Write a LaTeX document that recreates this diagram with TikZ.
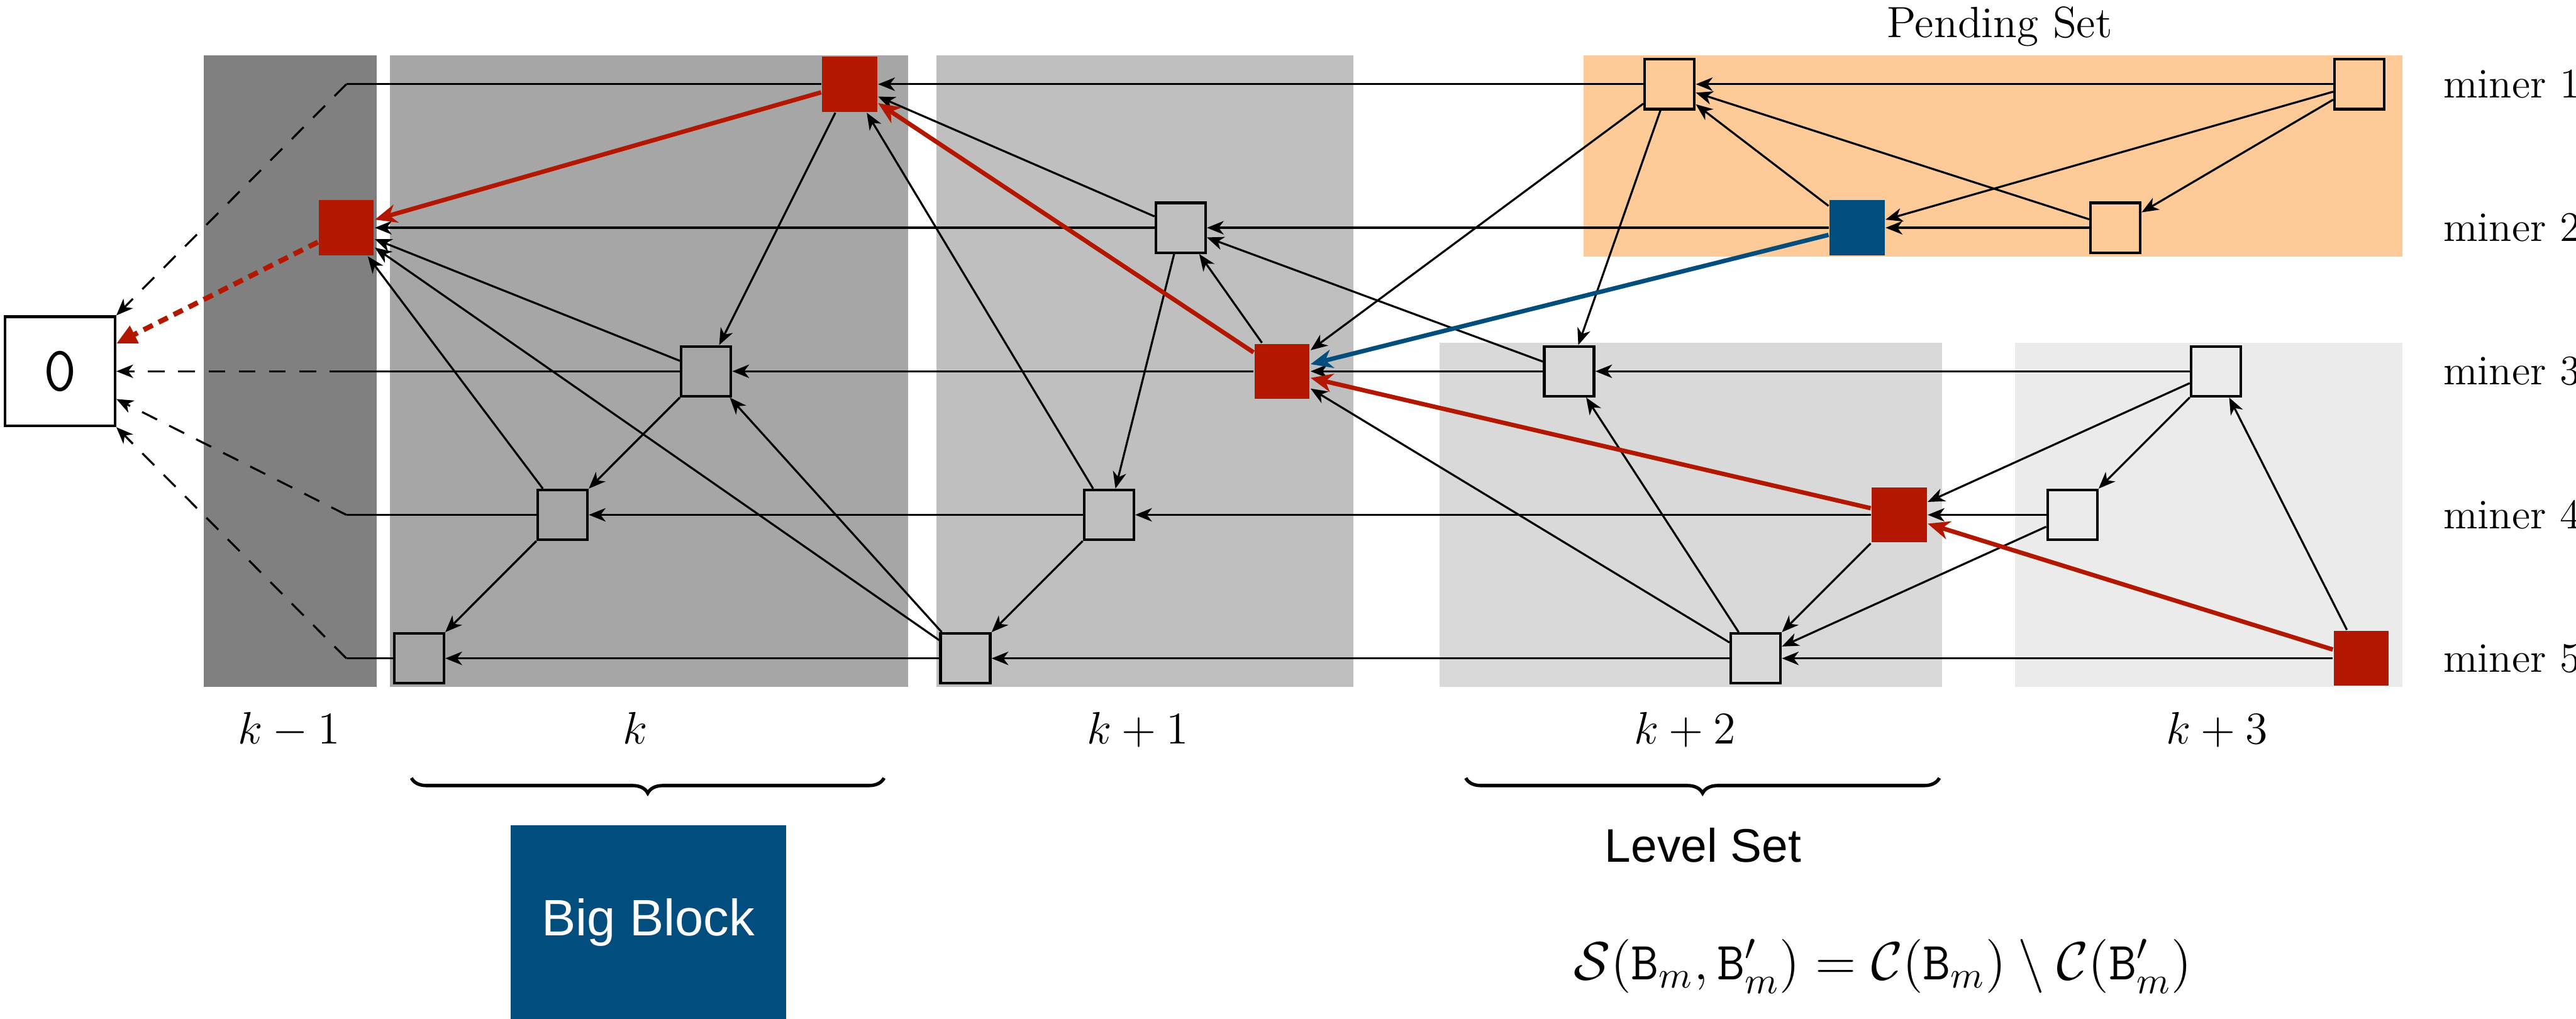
\documentclass[tikz,border=0pt]{standalone}
\usepackage{fix-cm}
\usepackage{amsmath}
\usepackage{amssymb}
\usepackage{fontspec}
\newfontfamily\blocksans{Liberation Sans}
\usetikzlibrary{arrows.meta,decorations.pathreplacing}
\definecolor{blkred}{RGB}{180,23,0}
\definecolor{blkblue}{RGB}{0,77,126}
\definecolor{pendorange}{RGB}{253,202,152}

\begin{document}
\begin{tikzpicture}[>={Stealth[length=5pt,width=4pt,inset=1.5pt]}, line width=0.6pt,
        block/.style={draw, line width=0.8pt, minimum size=0.52cm, inner sep=0pt},
        redblock/.style={fill=blkred, minimum size=0.575cm, inner sep=0pt},
        blueblock/.style={fill=blkblue, minimum size=0.575cm, inner sep=0pt},
        redlink/.style={-{Stealth[length=6.5pt,width=5.5pt,inset=2pt]}, line width=1.3pt, blkred},
        bluelink/.style={-{Stealth[length=6.5pt,width=5.5pt,inset=2pt]}, line width=1.3pt, blkblue},
        tail/.style={->, dash pattern=on 5pt off 4pt},
        miner/.style={anchor=west, font=\fontsize{12.5}{15}\selectfont},
        level/.style={anchor=base, font=\fontsize{13.5}{16}\selectfont}]
        \useasboundingbox (0,-6.766) rectangle (26.924,3.88);

        % levels and the pending set
        \fill[black!50] (2.127,-3.3) rectangle (3.937,3.3);
        \fill[black!35] (4.076,-3.3) rectangle (9.494,3.3);
        \fill[black!25] (9.785,-3.3) rectangle (14.146,3.3);
        \fill[black!15] (15.044,-3.3) rectangle (20.30,0.3);
        \fill[black!8] (21.06,-3.3) rectangle (25.11,0.3);
        \fill[pendorange] (16.55,1.2) rectangle (25.11,3.3);

        \node[draw, line width=0.8pt, minimum width=1.15cm, minimum height=1.14cm, inner sep=0pt,
            font=\ttfamily\fontsize{19}{19}\selectfont] (zero) at (0.627,0) {0};

        \coordinate (b1) at (3.62,3);
        \coordinate (b3) at (3.62,0);
        \coordinate (b4) at (3.62,-1.5);
        \coordinate (b5) at (3.62,-3);

        \node[redblock] (l0m2) at (3.62,1.5) {};
        \node[redblock] (l1m1) at (8.88,3) {};
        \node[block] (l1m3) at (7.38,0) {};
        \node[block] (l1m4) at (5.88,-1.5) {};
        \node[block] (l1m5) at (4.38,-3) {};
        \node[block] (l2m2) at (12.34,1.5) {};
        \node[redblock] (l2m3) at (13.40,0) {};
        \node[block] (l2m4) at (11.59,-1.5) {};
        \node[block] (l2m5) at (10.09,-3) {};
        \node[block] (l3m3) at (16.40,0) {};
        \node[redblock] (l3m4) at (19.85,-1.5) {};
        \node[block] (l3m5) at (18.35,-3) {};
        \node[block] (l4m3) at (23.16,0) {};
        \node[block] (l4m4) at (21.66,-1.5) {};
        \node[redblock] (l4m5) at (24.68,-3) {};
        \node[block] (p1a) at (17.45,3) {};
        \node[block] (p1b) at (24.66,3) {};
        \node[blueblock] (p2a) at (19.41,1.5) {};
        \node[block] (p2b) at (22.11,1.5) {};

        % chains of each miner
        \draw[->] (p1b) -- (p1a);
        \draw[->] (p1a) -- (l1m1);
        \draw (l1m1) -- (b1);
        \draw[tail] (b1) -- (zero.north east);
        \draw[->] (p2b) -- (p2a);
        \draw[->] (p2a) -- (l2m2);
        \draw[->] (l2m2) -- (l0m2);
        \draw[->] (l4m3) -- (l3m3);
        \draw[->] (l3m3) -- (l2m3);
        \draw[->] (l2m3) -- (l1m3);
        \draw (l1m3) -- (b3);
        \draw[tail] (b3) -- (zero.east);
        \draw[->] (l4m4) -- (l3m4);
        \draw[->] (l3m4) -- (l2m4);
        \draw[->] (l2m4) -- (l1m4);
        \draw (l1m4) -- (b4);
        \draw[tail] (b4) -- ([yshift=-0.29cm]zero.east);
        \draw[->] (l4m5) -- (l3m5);
        \draw[->] (l3m5) -- (l2m5);
        \draw[->] (l2m5) -- (l1m5);
        \draw (l1m5) -- (b5);
        \draw[tail] (b5) -- (zero.south east);

        % references across miners
        \draw[->] (l1m1) -- (l1m3);
        \draw[->] (l1m3) -- (l0m2);
        \draw[->] (l1m3) -- (l1m4);
        \draw[->] (l1m4) -- (l0m2);
        \draw[->] (l1m4) -- (l1m5);
        \draw[->] (l2m5) -- (l0m2);
        \draw[->] (l2m5) -- (l1m3);
        \draw[->] (l2m2) -- (l1m1);
        \draw[->] (l2m4) -- (l1m1);
        \draw[->] (l2m3) -- (l2m2);
        \draw[->] (l3m3) -- (l2m2);
        \draw[->] (l2m2) -- (l2m4);
        \draw[->] (l2m4) -- (l2m5);
        \draw[->] (p1a) -- (l2m3);
        \draw[->] (p1a) -- (l3m3);
        \draw[->] (l3m5) -- (l2m3);
        \draw[->] (l3m5) -- (l3m3);
        \draw[->] (p2b) -- (p1a);
        \draw[->] (p2a) -- (p1a);
        \draw[->] (p1b) -- (p2a);
        \draw[->] (p1b) -- (p2b);
        \draw[->] (l3m4) -- (l3m5);
        \draw[->] (l4m4) -- (l3m5);
        \draw[->] (l4m5) -- (l4m3);
        \draw[->] (l4m3) -- (l3m4);
        \draw[->] (l4m3) -- (l4m4);

        \draw[redlink] (l1m1) -- (l0m2);
        \draw[redlink] (l2m3) -- (l1m1);
        \draw[redlink] (l3m4) -- (l2m3);
        \draw[redlink] (l4m5) -- (l3m4);
        \draw[bluelink] (p2a) -- (l2m3);
        \draw[redlink, -{Triangle[length=6pt,width=5.5pt]}, line width=1.5pt, dash pattern=on 3pt off 2pt]
            (l0m2) -- ([yshift=0.29cm]zero.east);

        \node[anchor=base, font=\fontsize{13}{16}\selectfont] (pending) at (20.9,3.487) {Pending Set};
        \node[miner] (miner1) at (25.41,3) {miner 1};
        \node[miner] (miner2) at (25.41,1.5) {miner 2};
        \node[miner] (miner3) at (25.41,0) {miner 3};
        \node[miner] (miner4) at (25.41,-1.5) {miner 4};
        \node[miner] (miner5) at (25.41,-3) {miner 5};

        \node[level] (lev0) at (3.02,-3.89) {$k-1$};
        \node[level] (lev1) at (6.64,-3.89) {$k$};
        \node[level] (lev2) at (11.89,-3.89) {$k+1$};
        \node[level] (lev3) at (17.61,-3.89) {$k+2$};
        \node[level] (lev4) at (23.17,-3.89) {$k+3$};

        \draw[decorate, decoration={brace, mirror, amplitude=4.5pt}, line width=1pt] (4.30,-4.25) -- (9.24,-4.25);
        \draw[decorate, decoration={brace, mirror, amplitude=4.5pt}, line width=1pt] (15.32,-4.25) -- (20.27,-4.25);

        \node[fill=blkblue, text=white, minimum width=2.88cm, minimum height=2.02cm,
            font=\blocksans\fontsize{15.2}{18}\selectfont] (bigblock) at (6.775,-5.757) {Big Block};
        \node[anchor=base, font=\blocksans\fontsize{14}{17}\selectfont] (levelset) at (17.80,-5.13) {Level Set};
        \node[anchor=base, font=\fontsize{16}{19}\selectfont] (setdiff) at (19.68,-6.36)
            {$\mathcal{S}(\mathtt{B}_m,\mathtt{B}'_m)=\mathcal{C}(\mathtt{B}_m)\setminus\mathcal{C}(\mathtt{B}'_m)$};
    \end{tikzpicture}
\end{document}
